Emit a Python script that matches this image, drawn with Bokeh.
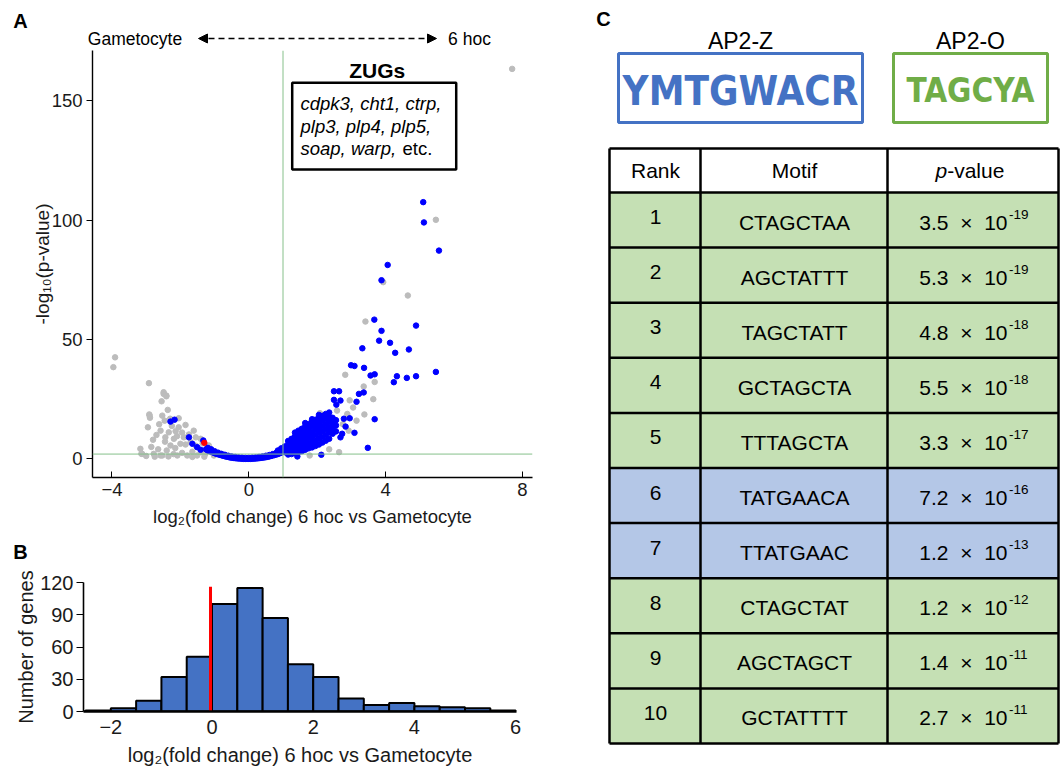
import math
from bokeh.plotting import figure
from bokeh.layouts import row, column
from bokeh.models import (Range1d, FixedTicker, Span, Label, Arrow, NormalHead, BoxAnnotation)
from bokeh.core.properties import value
from bokeh.embed import file_html
from bokeh.resources import INLINE

FONT = "Liberation Sans"

# ------------------------------------------------------------------ data
# Panel A: volcano plot (log2 fold change, -log10 p)
gray_pts = [
    (7.70, 163.3), (5.47, 100.1), (3.93, 74.0), (4.65, 68.4), (3.41, 57.5), (2.82, 35.2),
    (3.36, 30.3), (3.68, 32.2), (3.64, 25.0), (3.38, 18.6), (2.08, 19.1), (2.58, 20.2),
    (2.88, 18.8), (2.92, 11.8), (2.29, 8.4), (1.90, 6.3), (2.64, 2.8), (1.78, 1.4),
    (3.05, 21.5), (2.75, 14.5), (2.45, 12.0), (2.20, 10.5), (2.00, 9.5), (1.60, 3.5),
    (2.35, 4.0), (3.15, 16.0), (2.95, 24.5),
    (-3.91, 42.5), (-3.96, 38.4), (-2.92, 31.7), (-2.49, 27.9), (-2.41, 26.2), (-2.55, 24.1),
    (-2.37, 20.5), (-2.91, 18.6), (-2.89, 17.2), (-2.95, 13.2), (-2.53, 18.1), (-2.46, 16.0),
    (-1.85, 14.2), (-2.05, 13.2), (-2.58, 11.8), (-2.34, 11.1), (-2.14, 11.6), (-1.61, 11.8),
    (-2.44, 9.0), (-2.19, 8.4), (-1.90, 9.0), (-1.70, 7.0), (-2.00, 6.3), (-2.29, 5.6),
    (-1.41, 8.4), (-1.17, 5.6), (-3.17, 4.2), (-3.12, 2.1), (-2.78, 2.1), (-2.53, 1.4),
    (-2.09, 1.4), (-1.80, 1.4), (-1.51, 1.4), (-1.27, 2.1), (-1.02, 1.4), (-2.49, 27.2),
    (-2.41, 26.5), (-2.90, 18.1), (-3.14, 2.1), (-2.58, 1.4), (-2.70, 10.0), (-2.62, 14.5),
    (-2.25, 13.8), (-2.10, 9.5), (-1.95, 11.0), (-1.75, 10.2), (-1.55, 9.0), (-1.35, 6.5),
    (-1.55, 5.5), (-1.85, 6.0), (-2.15, 4.5), (-2.40, 3.5), (-2.65, 4.0), (-2.85, 5.0),
    (-3.00, 1.2), (-2.35, 1.0), (-1.95, 2.5), (-1.65, 3.0), (-1.40, 2.8), (-1.15, 3.2),
    (-2.20, 2.0), (-2.75, 0.9), (-1.65, 0.8), (-1.30, 0.9), (-2.45, 7.2), (-2.30, 16.8),
    (-2.80, 8.0), (-2.05, 17.0),
]
blue_scatter_pts = [
    (5.10, 107.5), (5.12, 99.0), (5.56, 87.2), (4.06, 81.2), (3.88, 74.8), (3.67, 58.3),
    (3.88, 53.6), (3.81, 49.5), (4.13, 48.6), (4.28, 44.4), (4.68, 45.8), (4.89, 55.8),
    (3.32, 46.3), (2.99, 39.2), (3.09, 38.9), (3.37, 38.1), (3.56, 34.9), (3.68, 35.4),
    (4.33, 34.6), (4.24, 32.1), (4.62, 33.9), (4.89, 34.6), (5.47, 36.4), (2.49, 28.3),
    (2.64, 28.3), (2.49, 24.7), (2.68, 24.4), (2.56, 22.7), (3.22, 27.2), (3.36, 27.8),
    (3.15, 23.9), (3.68, 16.6), (3.48, 4.6), (3.09, 10.9), (2.78, 16.8), (2.95, 17.0),
    (2.73, 10.5), (2.68, 9.0), (2.83, 13.5), (2.12, 1.7), (1.42, 1.0),
    (-2.29, 15.6), (-2.17, 16.4), (-1.75, 9.0), (-1.65, 6.3), (-1.51, 4.9), (-1.41, 3.8),
    (-1.33, 7.7),
]
blue_band_pts = [
    (-1.25, 4.0), (-1.20, 3.5), (-1.15, 3.3), (-1.10, 3.0), (-1.05, 2.7), (-1.00, 2.4),
    (-0.95, 2.1), (-0.90, 1.9), (-0.85, 1.7), (-0.80, 1.5), (-0.75, 1.3), (-0.70, 1.1),
    (-0.65, 0.9), (-0.60, 0.8), (-0.55, 0.6), (-0.50, 0.5), (-0.45, 0.4), (-0.40, 0.3),
    (-0.35, 0.2), (-0.30, 0.15), (-0.25, 0.1), (-0.20, 0.05), (-0.15, 0.0), (-0.10, 0.0),
    (-0.05, 0.0), (0.00, 0.0), (0.05, 0.0), (0.10, 0.05), (0.15, 0.1), (0.20, 0.15),
    (0.25, 0.2), (0.30, 0.3), (0.35, 0.4), (0.40, 0.5), (0.45, 0.6), (0.50, 0.7),
    (0.55, 0.85), (0.60, 1.0), (0.65, 1.2), (0.70, 1.4), (0.75, 1.6), (0.80, 1.8),
    (0.85, 2.0), (0.90, 2.3), (0.95, 2.6), (1.00, 2.9),
    (-1.20, 4.6), (-1.10, 4.0), (-1.00, 3.2), (-0.90, 2.6), (-0.80, 2.1), (-0.70, 1.7),
    (-0.60, 1.3), (-0.50, 1.0), (-0.40, 0.8), (-0.30, 0.6), (-0.20, 0.5), (-0.10, 0.4),
    (0.00, 0.4), (0.10, 0.5), (0.20, 0.6), (0.30, 0.8), (0.40, 1.0), (0.50, 1.3),
    (0.60, 1.6), (0.70, 2.0), (0.80, 2.5), (0.90, 3.1), (1.00, 3.8), (0.85, 3.5), (0.95, 4.4),
]
blue_cluster_pts = [
    (1.05, 2.8), (1.05, 4.0), (1.05, 5.2),
    (1.15, 1.8), (1.15, 3.2), (1.15, 4.6), (1.15, 6.0), (1.15, 7.5),
    (1.25, 2.0), (1.25, 3.6), (1.25, 5.2), (1.25, 6.8), (1.25, 8.4),
    (1.35, 2.4), (1.35, 4.0), (1.35, 5.8), (1.35, 7.6), (1.35, 9.4), (1.35, 11.0),
    (1.45, 2.8), (1.45, 4.6), (1.45, 6.4), (1.45, 8.2), (1.45, 10.0), (1.45, 11.8),
    (1.55, 3.2), (1.55, 5.2), (1.55, 7.0), (1.55, 9.0), (1.55, 11.0), (1.55, 12.6),
    (1.65, 3.8), (1.65, 5.8), (1.65, 7.8), (1.65, 9.8), (1.65, 11.8), (1.65, 13.6), (1.65, 15.0),
    (1.75, 4.4), (1.75, 6.4), (1.75, 8.6), (1.75, 10.6), (1.75, 12.6), (1.75, 14.6),
    (1.85, 4.8), (1.85, 7.0), (1.85, 9.2), (1.85, 11.4), (1.85, 13.6), (1.85, 15.6), (1.85, 16.6),
    (1.95, 5.4), (1.95, 7.6), (1.95, 10.0), (1.95, 12.2), (1.95, 14.4), (1.95, 16.4),
    (2.05, 6.0), (2.05, 8.4), (2.05, 10.8), (2.05, 13.0), (2.05, 15.2), (2.05, 17.2), (2.05, 18.4),
    (2.15, 6.8), (2.15, 9.2), (2.15, 11.6), (2.15, 13.8), (2.15, 16.0), (2.15, 18.0),
    (2.25, 7.6), (2.25, 10.0), (2.25, 12.4), (2.25, 14.6), (2.25, 16.8), (2.25, 18.8),
    (2.35, 8.4), (2.35, 11.0), (2.35, 13.2), (2.35, 15.4), (2.35, 17.6), (2.35, 19.4),
    (2.45, 10.5), (2.45, 12.8), (2.45, 15.0), (2.45, 17.2),
    (2.55, 11.5), (2.55, 14.0), (2.55, 16.2),
]
red_pts = [(-1.30, 6.7)]
fc_cutoff = 1.0          # vertical green line
p_cutoff = 2.0           # horizontal green line (-log10 p)
zugs_lines = [["cdpk3, cht1, ctrp,", ""], ["plp3, plp4, plp5,", ""], ["soap, warp,", "etc."]]

# Panel B: histogram
hist_edges = [-2.5, -2.0, -1.5, -1.0, -0.5, 0.0, 0.5, 1.0, 1.5, 2.0, 2.5, 3.0, 3.5,
              4.0, 4.5, 5.0, 5.5, 6.0]
hist_counts = [1, 3, 10, 32, 51, 100, 115, 87, 44, 32, 12, 6, 8, 5, 4, 3, 1]
red_line_x = -0.03
red_line_top = 116

# Panel C: motif table
ranks = ["1", "2", "3", "4", "5", "6", "7", "8", "9", "10"]
motifs = ["CTAGCTAA", "AGCTATTT", "TAGCTATT", "GCTAGCTA", "TTTAGCTA",
          "TATGAACA", "TTATGAAC", "CTAGCTAT", "AGCTAGCT", "GCTATTTT"]
p_mant = ["3.5", "5.3", "4.8", "5.5", "3.3", "7.2", "1.2", "1.2", "1.4", "2.7"]
p_exp = ["-19", "-19", "-18", "-18", "-17", "-16", "-13", "-12", "-11", "-11"]
motif_group = ["AP2-O", "AP2-O", "AP2-O", "AP2-O", "AP2-O",
               "AP2-Z", "AP2-Z", "AP2-O", "AP2-O", "AP2-O"]
logo_names = ["AP2-Z", "AP2-O"]
logo_seqs = ["YMTGWACR", "TAGCYA"]

BLUE_LOGO = "#4472c4"
GREEN_LOGO = "#70ad47"
group_fill = {"AP2-O": "#c5e0b4", "AP2-Z": "#b4c7e7"}
XLABEL = "log\u2082(fold change) 6 hoc vs Gametocyte"


# ------------------------------------------------------------------ helpers
def unzip(pts):
    return [p[0] for p in pts], [p[1] for p in pts]


def add_label(p, x, y, text, size, style="normal", align="center", baseline="middle",
              angle=0.0, color="black"):
    p.add_layout(Label(x=x, y=y, text=text, text_font=FONT, text_font_size=f"{size}px",
                       text_font_style=style, text_align=align, text_baseline=baseline,
                       angle=angle, text_color=color))


def style_axes(p, size):
    for ax in (p.xaxis[0], p.yaxis[0]):
        ax.axis_line_color = "black"
        ax.major_tick_line_color = "black"
        ax.minor_tick_line_color = None
        ax.major_label_text_font = FONT
        ax.major_label_text_font_size = f"{size}px"
        ax.major_label_text_color = "#1a1a1a"
        ax.axis_label_text_font = FONT
        ax.axis_label_text_font_style = "normal"
        ax.axis_label_text_color = "#1a1a1a"
    p.grid.visible = False
    p.outline_line_color = None


def blank(width, height, x0, x1, y_top, y_bot):
    """A figure without axes whose data coordinates are page pixels."""
    p = figure(width=width, height=height, x_range=Range1d(x0, x1), y_range=Range1d(y_bot, y_top),
               x_axis_type=None, y_axis_type=None, output_backend="svg",
               toolbar_location=None, title=None, min_border=0, frame_align=False)
    p.grid.visible = False
    p.outline_line_color = None
    return p


def gtext(p, x, y, t, size, style="normal", align="center", color="black", font=FONT):
    p.text(x=[x], y=[y], text=[t], text_font=value(font), text_font_size=f"{size}px",
           text_font_style=style, text_align=align, text_baseline="middle", text_color=color)


LEFT_W = 568

# ------------------------------------------------------------------ Panel A header
hA = blank(LEFT_W, 50, 0, LEFT_W, 0, 50)
gtext(hA, 20, 20, "A", 20, style="bold")
gtext(hA, 134.5, 38, "Gametocyte", 17.5)
gtext(hA, 469, 38, "6 hoc", 17.5)
hA.add_layout(Arrow(start=NormalHead(size=9, fill_color="black", line_color="black"),
                    end=NormalHead(size=9, fill_color="black", line_color="black"),
                    x_start=198, y_start=38, x_end=436, y_end=38,
                    line_dash="6 4", line_width=1.5, line_color="black"))

# ------------------------------------------------------------------ Panel A
A_X0, A_X1 = -4.57, 8.295
A_Y0, A_Y1 = -7.81, 171.0
A_L, A_T = 92.0, 50.0         # page px of frame left / top
A_PX, A_PY = 34.2, 2.388      # px per unit


def ax_(sx):
    return A_X0 + (sx - A_L) / A_PX


def ay_(sy):
    return A_Y1 - (sy - A_T) / A_PY


pA = figure(width=LEFT_W, height=480, x_range=Range1d(A_X0, A_X1), y_range=Range1d(A_Y0, A_Y1),
            output_backend="svg", toolbar_location=None, title=None, frame_align=False,
            min_border_left=92, min_border_right=36, min_border_top=0, min_border_bottom=53)
style_axes(pA, 18.5)
pA.xaxis.ticker = FixedTicker(ticks=[-4, 0, 4, 8])
pA.yaxis.ticker = FixedTicker(ticks=[0, 50, 100, 150])
pA.xaxis.major_tick_in = 6
pA.xaxis.major_tick_out = 0
pA.yaxis.major_tick_in = 0
pA.yaxis.major_tick_out = 6
pA.xaxis.axis_line_width = 1.4
pA.yaxis.axis_line_width = 1.4
pA.xaxis.major_label_standoff = 5
pA.yaxis.major_label_standoff = 4
pA.xaxis.axis_label = XLABEL
pA.xaxis.axis_label_text_font_size = "18.5px"
pA.xaxis.axis_label_standoff = 7
pA.yaxis.axis_label = "-log\u2081\u2080(p-value)"
pA.yaxis.axis_label_text_font_size = "19px"
pA.yaxis.axis_label_standoff = -4

pA.add_layout(Span(location=fc_cutoff, dimension="height", line_color="#86c08a", line_width=1))
pA.add_layout(Span(location=p_cutoff, dimension="width", line_color="#86c08a", line_width=1))

gx, gy = unzip(gray_pts)
pA.scatter(gx, gy, size=5.5, color="#bcbcbc")
bx_all, by_all = unzip(blue_band_pts + blue_cluster_pts + blue_scatter_pts)
pA.scatter(bx_all, by_all, size=5.5, color="#0000ff")
rx, ry = unzip(red_pts)
pA.scatter(rx, ry, size=5.5, color="#ff0000")

add_label(pA, ax_(376.7), ay_(70), "ZUGs", 21, style="bold")
pA.add_layout(BoxAnnotation(left=ax_(291.7), right=ax_(455.7), top=ay_(82.3), bottom=ay_(169),
                            fill_color="white", fill_alpha=1.0, line_color="black",
                            line_width=2.5, line_alpha=1.0))
for i, (ital, norm) in enumerate(zugs_lines):
    yy = ay_(103.3 + i * 22.5)
    add_label(pA, ax_(300), yy, ital, 18.5, style="italic", align="left")
    if norm:
        add_label(pA, ax_(402), yy, norm, 18.5, align="left")

# ------------------------------------------------------------------ Panel B header
hB = blank(LEFT_W, 37, 0, LEFT_W, 530, 567)
gtext(hB, 20, 551, "B", 20, style="bold")

# ------------------------------------------------------------------ Panel B
B_X0 = -2.54
B_X1 = B_X0 + 433 / 50.6

pB = figure(width=LEFT_W, height=202, x_range=Range1d(B_X0, B_X1), y_range=Range1d(0, 120),
            output_backend="svg", toolbar_location=None, title=None, frame_align=False,
            min_border_left=83, min_border_right=52, min_border_top=15, min_border_bottom=58)
style_axes(pB, 20)
pB.xaxis.ticker = FixedTicker(ticks=[-2, 0, 2, 4, 6])
pB.yaxis.ticker = FixedTicker(ticks=[0, 30, 60, 90, 120])
pB.xaxis.major_tick_in = 0
pB.xaxis.major_tick_out = 0
pB.xaxis.axis_line_width = 2.5
pB.xaxis.major_label_standoff = 8
pB.yaxis.major_tick_in = 0
pB.yaxis.major_tick_out = 7
pB.yaxis.axis_line_width = 1.6
pB.yaxis.major_label_standoff = 3
pB.xaxis.axis_label = XLABEL
pB.xaxis.axis_label_text_font_size = "20px"
pB.xaxis.axis_label_standoff = 7
pB.yaxis.axis_label = "Number of genes"
pB.yaxis.axis_label_text_font_size = "20px"
pB.yaxis.axis_label_standoff = 0

pB.quad(left=hist_edges[:-1], right=hist_edges[1:], bottom=0, top=hist_counts,
        fill_color="#4472c4", line_color="black", line_width=2)
pB.segment(x0=[red_line_x], y0=[0], x1=[red_line_x], y1=[red_line_top],
           line_color="#ff0000", line_width=3)

# ------------------------------------------------------------------ Panel C
pC = blank(1061 - LEFT_W, 769, LEFT_W, 1061, 0, 769)
gtext(pC, 603, 18, "C", 20, style="bold")

LOGO_FONT = "DejaVu Sans Condensed, Liberation Sans"
logo_boxes = [(618, 862), (893, 1047)]
logo_cols = [BLUE_LOGO, GREEN_LOGO]
logo_sizes = [40, 33]
for (l, r), name, seq, col, fs in zip(logo_boxes, logo_names, logo_seqs, logo_cols, logo_sizes):
    cx = (l + r) / 2
    gtext(pC, cx, 40, name, 23)
    pC.quad(left=[l], right=[r], top=[53], bottom=[122], fill_alpha=0,
            line_color=col, line_width=3)
    gtext(pC, cx, 90, seq, fs, style="bold", color=col, font=LOGO_FONT)

T_L, T_C1, T_C2, T_R = 609, 700, 887, 1058
T_TOP, T_HB, ROW_H = 148, 192, 55.1
n = len(ranks)
row_top = [T_HB + i * ROW_H for i in range(n)]
row_bot = [t + ROW_H for t in row_top]
row_col = [group_fill[g] for g in motif_group]
pC.quad(left=[T_L], right=[T_R], top=[T_TOP], bottom=[T_HB], fill_color="white", line_color=None)
pC.quad(left=[T_L] * n, right=[T_R] * n, top=row_top, bottom=row_bot, fill_color=row_col,
        line_color=None)
T_BOT = row_bot[-1]
hy = [T_TOP, T_HB] + row_bot
pC.segment(x0=[T_L] * len(hy), y0=hy, x1=[T_R] * len(hy), y1=hy, line_color="black",
           line_width=2.5)
vx = [T_L, T_C1, T_C2, T_R]
pC.segment(x0=vx, y0=[T_TOP] * 4, x1=vx, y1=[T_BOT] * 4, line_color="black", line_width=2.5)

TS = 21
gtext(pC, 655, 170, "Rank", TS)
gtext(pC, 794, 170, "Motif", TS)
gtext(pC, 935, 170, "p", TS, style="italic", align="left")
gtext(pC, 946.7, 170, "-value", TS, align="left")

for i in range(n):
    cy = row_top[i] + ROW_H / 2
    gtext(pC, 655, cy - 3, ranks[i], TS)
    gtext(pC, 794, cy + 2, motifs[i], TS)
    gtext(pC, 1007, cy + 2, p_mant[i] + "\u00a0\u00a0\u00d7\u00a0\u00a010", TS, align="right")
    gtext(pC, 1008.5, cy - 6, p_exp[i], 13.5, align="left")

layout = row(column(hA, pA, hB, pB), pC)
open("out.html", "w").write(file_html(layout, INLINE))
